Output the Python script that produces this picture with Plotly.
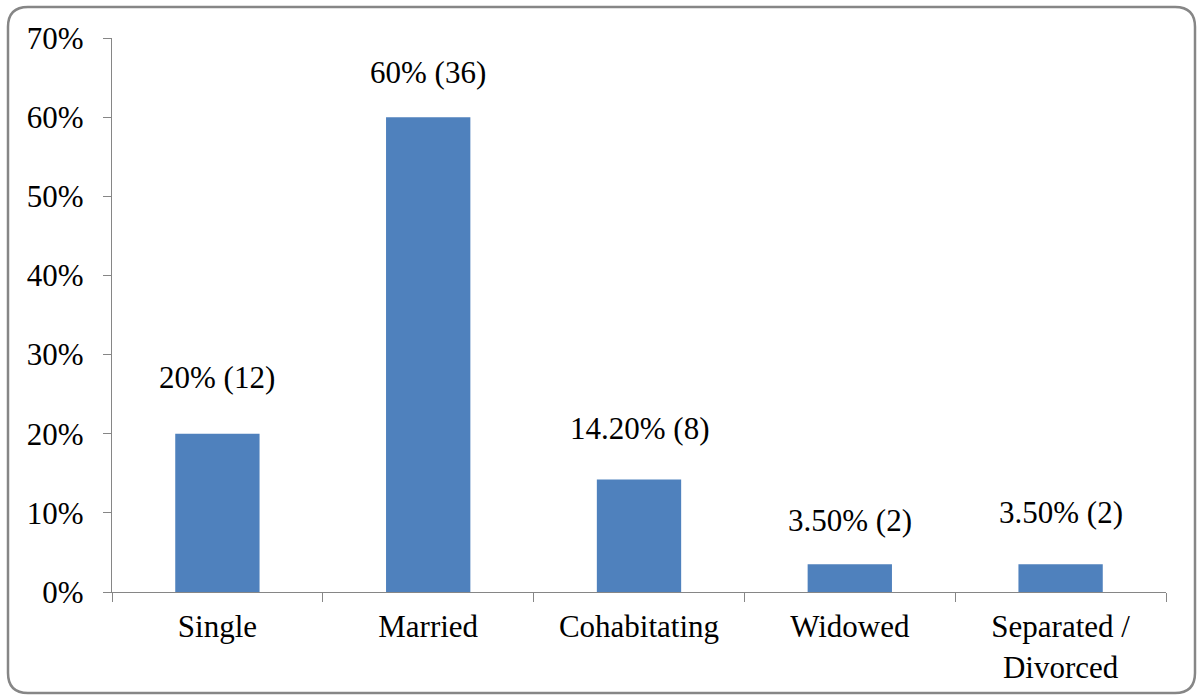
import plotly.graph_objects as go

# Marital status distribution
categories = ["Single", "Married", "Cohabitating", "Widowed", "Separated /<br>Divorced"]
percent = [20.0, 60.0, 14.2, 3.5, 3.5]
counts = [12, 36, 8, 2, 2]
value_labels = ["20% (12)", "60% (36)", "14.20% (8)", "3.50% (2)", "3.50% (2)"]
y_ticks = [0, 10, 20, 30, 40, 50, 60, 70]
y_tick_text = ["0%", "10%", "20%", "30%", "40%", "50%", "60%", "70%"]

W, H = 1197, 696
L, R, T, B = 112, 31, 38, 104
PW, PH = W - L - R, H - T - B

FONT = "Liberation Serif"
FS = 31
AXIS_GREY = "#868686"
BAR_BLUE = "#4F81BD"

fig = go.Figure()
fig.add_trace(go.Bar(
    x=categories,
    y=percent,
    marker=dict(color=BAR_BLUE, line=dict(width=0)),
    hoverinfo="skip",
))

# value labels floated above each bar
label_lift = [56, 45, 51, 44, 52]
for cat, val, txt, lift in zip(categories, percent, value_labels, label_lift):
    fig.add_annotation(
        x=cat, y=val, text=txt, showarrow=False,
        yanchor="middle", xanchor="center", yshift=lift,
        font=dict(family=FONT, size=FS, color="#000000"),
    )


# rounded outer frame, built in paper coordinates from pixel positions
def px_x(px):
    return (px - L) / PW


def px_y(py):
    return (H - B - py) / PH


x0, x1, y0, y1, rad = 8, 1195, 7, 693, 20
pts = [
    f"M {px_x(x0 + rad)},{px_y(y0)}",
    f"L {px_x(x1 - rad)},{px_y(y0)}",
    f"Q {px_x(x1)},{px_y(y0)} {px_x(x1)},{px_y(y0 + rad)}",
    f"L {px_x(x1)},{px_y(y1 - rad)}",
    f"Q {px_x(x1)},{px_y(y1)} {px_x(x1 - rad)},{px_y(y1)}",
    f"L {px_x(x0 + rad)},{px_y(y1)}",
    f"Q {px_x(x0)},{px_y(y1)} {px_x(x0)},{px_y(y1 - rad)}",
    f"L {px_x(x0)},{px_y(y0 + rad)}",
    f"Q {px_x(x0)},{px_y(y0)} {px_x(x0 + rad)},{px_y(y0)}",
    "Z",
]
fig.add_shape(
    type="path", xref="paper", yref="paper", path=" ".join(pts),
    line=dict(color=AXIS_GREY, width=2.5), fillcolor="rgba(0,0,0,0)",
    layer="above",
)

fig.update_layout(
    width=W, height=H,
    margin=dict(l=L, r=R, t=T, b=B, pad=0),
    paper_bgcolor="white", plot_bgcolor="white",
    showlegend=False,
    bargap=0.6,
    font=dict(family=FONT, size=FS, color="#000000"),
)
fig.update_xaxes(
    type="category",
    showline=True, linecolor=AXIS_GREY, linewidth=1.2,
    ticks="outside", tickson="boundaries", ticklen=9, tickcolor=AXIS_GREY, tickwidth=1.2,
    showgrid=False, zeroline=False,
    tickfont=dict(family=FONT, size=FS, color="#000000"),
    ticklabelstandoff=7,
)
fig.update_yaxes(
    range=[0, 70],
    tickvals=y_ticks, ticktext=y_tick_text,
    showline=True, linecolor=AXIS_GREY, linewidth=1.2,
    ticks="outside", ticklen=8, tickcolor=AXIS_GREY, tickwidth=1.2,
    showgrid=False, zeroline=False,
    tickfont=dict(family=FONT, size=FS, color="#000000"),
    ticklabelstandoff=13,
)

fig.write_html("out.html")
